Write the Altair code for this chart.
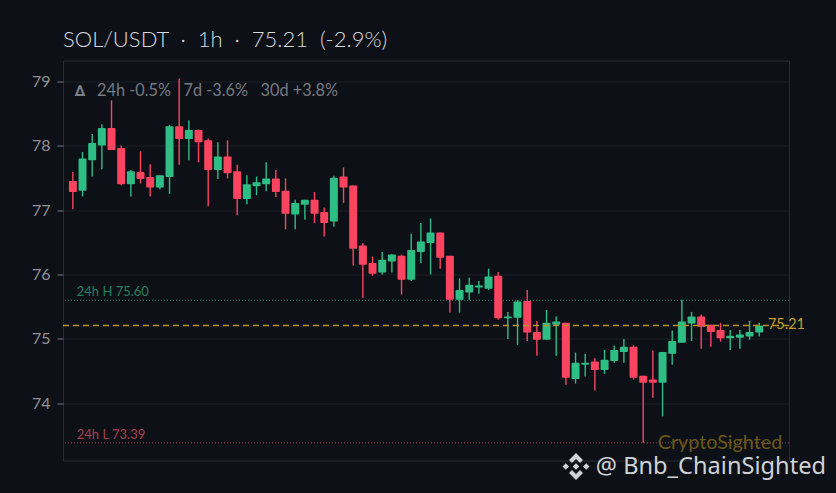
import altair as alt
import pandas as pd

opens = [77.45,77.30,77.77,78.00,78.27,77.96,77.40,77.59,77.51,77.35,77.51,78.30,78.10,78.24,78.08,77.62,77.83,77.60,77.17,77.37,77.40,77.49,
         77.30,76.93,77.08,77.16,76.97,76.82,77.52,77.38,76.45,76.18,76.03,76.20,76.29,75.92,76.35,76.49,76.65,76.29,75.61,75.72,75.80,75.78,
         75.98,75.32,75.33,75.59,75.11,74.99,75.22,75.25,74.38,74.60,74.65,74.52,74.66,74.80,74.88,74.43,74.37,74.32,74.77,74.94,75.24,75.35,
         75.22,75.14,75.01,75.02,75.04,75.10]
closes = [77.28,77.80,78.04,78.27,77.93,77.40,77.60,77.48,77.35,77.54,78.30,78.10,78.24,78.05,77.62,77.83,77.57,77.17,77.40,77.43,77.49,77.28,
          76.94,77.11,77.16,76.94,76.80,77.50,77.35,76.40,76.15,76.01,76.23,76.31,75.92,76.38,76.51,76.65,76.26,75.61,75.76,75.84,75.83,75.97,
          75.32,75.35,75.58,75.10,74.99,75.25,75.27,74.40,74.63,74.63,74.52,74.68,74.83,74.88,74.40,74.32,74.32,74.80,74.97,75.27,75.35,75.19,
          75.11,75.01,75.05,75.07,75.11,75.21]
highs = [77.59,77.90,78.18,78.33,78.70,78.00,77.62,77.91,77.71,77.54,78.32,79.04,78.39,78.25,78.11,78.05,78.08,77.70,77.54,77.52,77.74,77.62,
         77.49,77.16,77.16,77.28,77.04,77.53,77.66,77.38,76.49,76.28,76.35,76.31,76.31,76.63,76.80,76.87,76.65,76.29,75.94,75.95,75.90,76.09,
         76.04,75.42,75.60,75.76,75.28,75.45,75.35,75.25,74.79,74.77,74.70,74.83,74.90,75.00,74.90,74.43,74.82,74.80,75.13,75.61,75.42,75.38,
         75.22,75.25,75.14,75.14,75.28,75.25]
lows = [77.01,77.21,77.52,77.63,77.93,77.385,77.21,77.41,77.21,77.32,77.25,77.70,77.77,77.74,77.06,77.48,77.49,76.92,77.09,77.23,77.29,77.20,
        76.70,76.70,76.85,76.80,76.59,76.74,77.11,76.14,75.64,75.98,76.00,76.03,75.69,75.90,76.18,76.00,76.09,75.41,75.41,75.61,75.70,75.76,
        75.30,75.00,74.91,74.97,74.74,74.99,74.74,74.29,74.31,74.42,74.20,74.46,74.63,74.63,74.37,73.39,74.09,73.80,74.60,74.94,74.97,74.85,
        74.88,74.96,74.83,74.85,74.99,75.04]

NB = "\u00a0"
title_text = f"SOL/USDT{NB}{NB}·{NB}{NB}1h{NB}{NB}·{NB}{NB}75.21{NB}{NB}(-2.9%)"
stats_text = f"24h -0.5%{NB}{NB}{NB}7d -3.6%{NB}{NB}{NB}30d +3.8%"
y_ticks = [74, 75, 76, 77, 78, 79]
high_24h, low_24h, last_price = 75.60, 73.39, 75.21

BG = "#0d1117"
GREEN = "#2ebd85"
RED = "#fb4560"
FONT = "Lato"

df = pd.DataFrame({"i": range(len(opens)), "o": opens, "c": closes, "h": highs, "l": lows})
df["dir"] = ["up" if c >= o else "down" for o, c in zip(opens, closes)]

x_scale = alt.Scale(domain=[-1.02, 74.08], nice=False, zero=False, padding=0)
y_scale = alt.Scale(domain=[73.116, 79.318], nice=False, zero=False)
color = alt.Color("dir:N", scale=alt.Scale(domain=["up", "down"], range=[GREEN, RED]), legend=None)
y_axis = alt.Axis(values=y_ticks, format="d", grid=True, gridColor="#1b2027", gridWidth=1, domain=False,
                  tickColor="#767b84", tickSize=6, tickWidth=1, labelColor="#8d9199", labelFontSize=16,
                  labelFont=FONT, labelPadding=7, title=None)
X = alt.X("i:Q", scale=x_scale, axis=None)


def Y(field):
    return alt.Y(field, scale=y_scale, axis=y_axis)


wicks = alt.Chart(df).mark_rule(strokeWidth=1.4).encode(x=X, y=Y("l:Q"), y2="h:Q", color=color)
bodies = alt.Chart(df).mark_bar(width=8, cornerRadius=1).encode(x=X, y=Y("o:Q"), y2="c:Q", color=color)


def level(value, col, dash, sw=1):
    return alt.Chart(pd.DataFrame({"v": [value]})).mark_rule(
        color=col, strokeWidth=sw, strokeDash=dash).encode(y=Y("v:Q"))


def label(text, xv, yv, col, size, dy=0, align="left", weight=400, font=FONT):
    d = pd.DataFrame({"x": [xv], "y": [yv], "t": [text]})
    return alt.Chart(d).mark_text(color=col, fontSize=size, dy=dy, align=align, baseline="middle",
                                  font=font, fontWeight=weight).encode(
        x=alt.X("x:Q", scale=x_scale, axis=None), y=Y("y:Q"), text="t:N")


logo = ("M0 -1 L0.52 -0.48 L0.3 -0.26 L0 -0.56 L-0.3 -0.26 L-0.52 -0.48 Z "
        "M0 1 L0.52 0.48 L0.3 0.26 L0 0.56 L-0.3 0.26 L-0.52 0.48 Z "
        "M-0.76 -0.24 L-0.52 0 L-0.76 0.24 L-1 0 Z M0.76 -0.24 L1 0 L0.76 0.24 L0.52 0 Z "
        "M0 -0.25 L0.25 0 L0 0.25 L-0.25 0 Z")
logo_mark = alt.Chart(pd.DataFrame({"x": [0]})).mark_point(
    shape=logo, size=720, filled=True, color="#cfd2d6", opacity=1, clip=False).encode(
    x=alt.value(513), y=alt.value(406))

chart = alt.layer(
    level(high_24h, "#1f8a66", [1, 2]),
    level(low_24h, "#a8384b", [1, 2]),
    wicks,
    bodies,
    level(last_price, "#b8921c", [6, 4], 1.4),
    label("CryptoSighted", 60.5, 73.39, "#6b5818", 19.8),
    label("24h H 75.60", 0.4, high_24h, "#25805f", 13, dy=-8),
    label("24h L 73.39", 0.4, low_24h, "#a8404f", 13, dy=-8),
    label("75.21", 71.9, last_price, "#c4a02c", 14.5),
    label("∆", 0.2, 78.84, "#7e838b", 15, weight=700, font="DejaVu Sans"),
    label(stats_text, 2.5, 78.84, "#757a83", 16.3),
    label("@ Bnb_ChainSighted", 54.1, 73.016, "#cfd2d6", 23.6, font="Noto Sans"),
    logo_mark,
).properties(
    width=726, height=400, background=BG,
    padding={"left": 55, "top": 52.5, "right": 39, "bottom": 24},
    autosize=alt.AutoSizeParams(type="none"),
    title=alt.TitleParams(title_text, anchor="start", color="#d8dadd", fontSize=22, font=FONT,
                          fontWeight=300, offset=9, frame="group"),
).configure_view(stroke="#262b33", strokeWidth=1, fill=BG)

chart.save("out.html", embed_options={"renderer": "svg", "actions": False,
                                      "defaultStyle": "body{background:#0d1117}"})
